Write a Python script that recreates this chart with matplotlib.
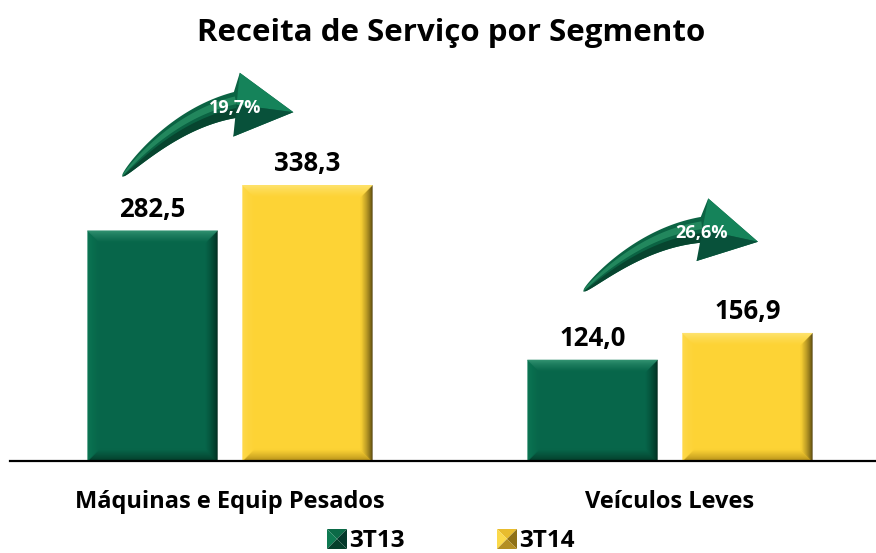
import numpy as np
import matplotlib
matplotlib.use('Agg')
import matplotlib.pyplot as plt
from matplotlib.patches import Polygon
from matplotlib.colors import to_rgb
from matplotlib.transforms import IdentityTransform

# ---------------- data ----------------
categories = ['Máquinas e Equip Pesados', 'Veículos Leves']
series_names = ['3T13', '3T14']
values_3t13 = [282.5, 124.0]
values_3t14 = [338.3, 156.9]
labels_3t13 = ['282,5', '124,0']
labels_3t14 = ['338,3', '156,9']
growth_labels = ['19,7%', '26,6%']

plt.rcParams['font.family'] = ['Open Sans', 'DejaVu Sans']

W, H = 876, 553
fig = plt.figure(figsize=(W / 100, H / 100), dpi=100)
ax = fig.add_axes([10 / W, (H - 461) / H, 880 / W, 400 / H])
ax.set_xlim(-0.5, 1.5)
ax.set_ylim(0, 400 / 0.815)

green = '#07664A'
yellow = '#FDD335'
green_bevel = {'top': '#3A9A78', 'left': '#0E7A56', 'right': '#01251A', 'bottom': '#033524'}
yellow_bevel = {'top': '#FFE77A', 'left': '#FFDB50', 'right': '#3F3208', 'bottom': '#A88414'}

x = np.arange(len(categories))
bw = 0.295
off = 0.176
bars1 = ax.bar(x - off, values_3t13, bw, color=green, zorder=1)
bars2 = ax.bar(x + off, values_3t14, bw, color=yellow, zorder=1)

# pixel -> data scale
o = ax.transData.transform((0, 0))
sx = ax.transData.transform((1, 0))[0] - o[0]
sy = ax.transData.transform((0, 1))[1] - o[1]


def mix(c1, c2, f):
    a, b = np.array(to_rgb(c1)), np.array(to_rgb(c2))
    return tuple(a * (1 - f) + b * f)


def bevel(bars, face, cols, bpx=12, n=12):
    bx, by = bpx / sx, bpx / sy
    for p in bars.patches:
        x0, y0 = p.get_x(), p.get_y()
        x1, y1 = x0 + p.get_width(), y0 + p.get_height()
        for k in range(n):
            d1, d2 = k / n, (k + 1) / n
            f = ((k + 0.5) / n) ** 0.7
            ax1, ay1, ax2, ay2 = d1 * bx, d1 * by, d2 * bx, d2 * by
            facets = {
                'top': [(x0 + ax1, y1 - ay1), (x1 - ax1, y1 - ay1), (x1 - ax2, y1 - ay2), (x0 + ax2, y1 - ay2)],
                'bottom': [(x0 + ax1, y0 + ay1), (x1 - ax1, y0 + ay1), (x1 - ax2, y0 + ay2), (x0 + ax2, y0 + ay2)],
                'left': [(x0 + ax1, y0 + ay1), (x0 + ax1, y1 - ay1), (x0 + ax2, y1 - ay2), (x0 + ax2, y0 + ay2)],
                'right': [(x1 - ax1, y0 + ay1), (x1 - ax1, y1 - ay1), (x1 - ax2, y1 - ay2), (x1 - ax2, y0 + ay2)],
            }
            for key in ['bottom', 'left', 'right', 'top']:
                ax.add_patch(Polygon(facets[key], closed=True,
                                     facecolor=mix(cols[key], face, f),
                                     edgecolor=mix(cols[key], face, f), linewidth=0.3,
                                     zorder=1.5))


bevel(bars1, green, green_bevel)
bevel(bars2, yellow, yellow_bevel)

# value labels
for bars, labs in [(bars1, labels_3t13), (bars2, labels_3t14)]:
    for p, lab in zip(bars.patches, labs):
        ax.annotate(lab, xy=(p.get_x() + p.get_width() / 2, p.get_height()),
                    xytext=(0, 14 * 0.72), textcoords='offset points',
                    ha='center', va='baseline', fontsize=18.5, fontweight='bold',
                    color='black')

# category labels
for i, cat in enumerate(categories):
    ax.annotate(cat, xy=(i, 0), xycoords='data', xytext=(0, -47 * 0.72),
                textcoords='offset points', ha='center', va='baseline',
                fontsize=17, fontweight='bold', annotation_clip=False)

ax.set_xticks([])
ax.set_yticks([])
for s in ['top', 'left', 'right']:
    ax.spines[s].set_visible(False)
ax.spines['bottom'].set_linewidth(1.6)
ax.spines['bottom'].set_color('black')
ax.spines['bottom'].set_zorder(3)

# title
fig.text(451 / W, (H - 41) / H, 'Receita de Serviço por Segmento', ha='center',
         va='baseline', fontsize=22.5, fontweight='bold')


# curved growth arrows
def curved_arrow(tail, tip, label):
    T = ax.transData.transform(tail)
    P = ax.transData.transform(tip)
    L = np.array([171., 66.])
    v = P - T
    s = np.hypot(*v) / np.hypot(*L)
    ang = np.arctan2(v[1], v[0]) - np.arctan2(L[1], L[0])
    R = np.array([[np.cos(ang), -np.sin(ang)], [np.sin(ang), np.cos(ang)]]) * s

    def tf(pts):
        return np.atleast_2d(np.asarray(pts, float)) @ R.T + T

    P0 = np.array([0., 0.]); P1 = np.array([55., 60.]); P2 = np.array([114., 73.])
    t = np.linspace(0, 1, 80)[:, None]
    B = (1 - t) ** 2 * P0 + 2 * t * (1 - t) * P1 + t ** 2 * P2
    D = 2 * (1 - t) * (P1 - P0) + 2 * t * (P2 - P1)
    D /= np.linalg.norm(D, axis=1, keepdims=True)
    N = np.column_stack([-D[:, 1], D[:, 0]])
    w = 13 * np.sqrt(t)
    upper = B + N * w
    lower = B - N * w
    htop = np.array([117., 105.]); hbot = np.array([111., 41.])
    Bend = B[-1]
    outline = np.vstack([upper, htop, L, hbot, lower[::-1]])
    idt = IdentityTransform()
    layers = [
        (outline, '#0B6343', 1.0),
        (np.vstack([B - N * w * 0.25, (lower)[::-1]]), '#07452F', 1.0),
        (np.vstack([B + N * w * 0.05, (B + N * w * 0.65)[::-1]]), '#2A9467', 0.75),
        (np.vstack([htop, L, Bend]), '#15835A', 1.0),
        (np.vstack([hbot, L, Bend]), '#08513A', 1.0),
    ]
    for pts, c, a in layers:
        fig.add_artist(Polygon(tf(pts), closed=True, facecolor=c, edgecolor='none',
                               alpha=a, transform=idt, zorder=4))
    tp = tf([113., 70.])[0]
    fig.text(tp[0] / W, tp[1] / H, label, ha='center', va='center', fontsize=13,
             fontweight='bold', color='white', zorder=6)


curved_arrow((-0.245, 349), (0.144, 428), growth_labels[0])
curved_arrow((0.803, 208), (1.2, 269), growth_labels[1])

# legend with pyramid markers (drawn in figure pixels)
leg_cols = [
    {'top': '#0B6A47', 'left': '#0E7A52', 'right': '#03372A', 'bottom': '#053F2B'},
    {'top': '#E8BC2E', 'left': '#FBD94A', 'right': '#8F7015', 'bottom': '#B48F22'},
]
leg_x = [327, 497]
sq = 20
for name, lx, cols in zip(series_names, leg_x, leg_cols):
    y1 = H - 529
    y0 = y1 - sq
    x0, x1 = lx, lx + sq
    cx, cy = (x0 + x1) / 2, (y0 + y1) / 2
    tris = [
        ([(x0, y1), (x1, y1), (cx, cy)], cols['top']),
        ([(x0, y0), (x0, y1), (cx, cy)], cols['left']),
        ([(x1, y0), (x1, y1), (cx, cy)], cols['right']),
        ([(x0, y0), (x1, y0), (cx, cy)], cols['bottom']),
    ]
    for pts, c in tris:
        fig.add_artist(Polygon(pts, closed=True, facecolor=c, edgecolor='none',
                               transform=IdentityTransform()))
    fig.text((x1 + 2) / W, (H - 547) / H, name, ha='left', va='baseline',
             fontsize=17.5, fontweight='bold')

fig.savefig('out.png', dpi=100)
